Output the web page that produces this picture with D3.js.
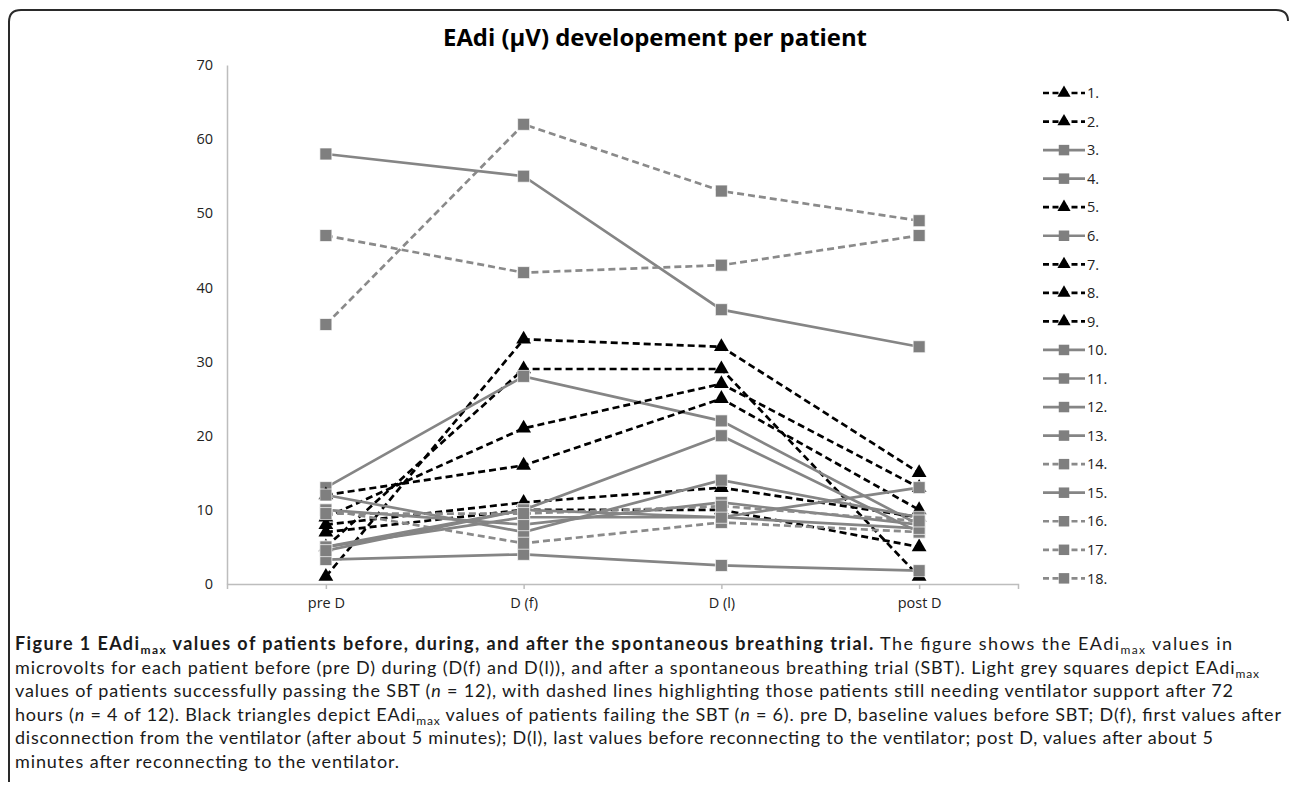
<!DOCTYPE html>
<html>
<head>
<meta charset="utf-8">
<script src="https://cdn.jsdelivr.net/npm/d3@7"></script>
<style>
  html, body { margin: 0; padding: 0; background: #fff; }
  svg { display: block; }
</style>
</head>
<body>
<svg id="chart" width="1290" height="786"></svg>
<script>
// ---------- DATA ----------
const categories = ["pre D", "D (f)", "D (l)", "post D"];
const patients = ["1.", "2.", "3.", "4.", "5.", "6.", "7.", "8.", "9.",
                  "10.", "11.", "12.", "13.", "14.", "15.", "16.", "17.", "18."];
// failing the SBT (black triangles, dashed)
const failing = ["1.", "2.", "5.", "7.", "8.", "9."];
// passing but still ventilated after 72 h (grey squares, dashed)
const stillVentilated = ["14.", "16.", "17.", "18."];
const yTicks = [0, 10, 20, 30, 40, 50, 60, 70];

const p1  = [1, 33, 32, 15];
const p2  = [5, 29, 29, 1];
const p3  = [58, 55, 37, 32];
const p4  = [13, 28, 22, 8];
const p5  = [9, 21, 27, 13];
const p6  = [3.3, 4, 2.5, 1.8];
const p7  = [12, 16, 25, 10];
const p8  = [8, 11, 13, 9];
const p9  = [7, 10, 10, 5];
const p10 = [5, 10, 20, 7];
const p11 = [12, 7, 14, 9];
const p12 = [5, 9, 9, 13];
const p13 = [10, 8, 11, 8];
const p14 = [10, 5.5, 8.3, 7];
const p15 = [4.5, 10, 9, 7.5];
const p16 = [9.5, 9.5, 10.5, 8.5];
const p17 = [35, 62, 53, 49];
const p18 = [47, 42, 43, 47];
const seriesValues = [p1, p2, p3, p4, p5, p6, p7, p8, p9, p10, p11, p12, p13, p14, p15, p16, p17, p18];

const series = patients.map((name, i) => ({
  name,
  values: seriesValues[i],
  kind: failing.includes(name) ? "fail" : (stillVentilated.includes(name) ? "vent" : "pass")
}));

// ---------- LAYOUT ----------
const svg = d3.select("#chart");
const GREY = "#7f7f7f";
const DASH = "7,4";
const styleOf = k => k === "fail"
  ? { stroke: "#000", dash: DASH, fill: "#000", sym: d3.symbolTriangle, size: 95 }
  : k === "vent"
    ? { stroke: "#8a8a8a", dash: DASH, fill: GREY, sym: d3.symbolSquare, size: 144 }
    : { stroke: "#858585", dash: null, fill: GREY, sym: d3.symbolSquare, size: 144 };

// frame
svg.append("path")
  .attr("d", "M9,782 L9,22 Q9,10 21,10 L1276,10 Q1288,10 1288,21")
  .attr("fill", "none").attr("stroke", "#2a2a2a").attr("stroke-width", 2);

// title
svg.append("text")
  .attr("x", 655).attr("y", 46)
  .attr("text-anchor", "middle")
  .attr("font-family", "'Open Sans', sans-serif")
  .attr("font-weight", "bold")
  .attr("font-size", 23)
  .attr("textLength", 424).attr("lengthAdjust", "spacingAndGlyphs")
  .attr("fill", "#000")
  .text("EAdi (µV) developement per patient");

const x = d3.scalePoint().domain(categories).range([227, 1018]).padding(0.5);
const y = d3.scaleLinear().domain([0, 70]).range([584, 65]);

// y axis
const yAxis = svg.append("g").attr("transform", "translate(227,0)")
  .call(d3.axisLeft(y).tickValues(yTicks).tickSize(0).tickPadding(14));
yAxis.select(".domain").attr("stroke", "#bdbdbd").attr("stroke-width", 1.5);
yAxis.selectAll("text").attr("font-family", "'Open Sans', sans-serif")
  .attr("font-size", 14.5).attr("fill", "#222");

// x axis
const xAxis = svg.append("g").attr("transform", "translate(0,584)")
  .call(d3.axisBottom(x).tickSizeInner(5).tickSizeOuter(5).tickPadding(0));
xAxis.select(".domain").attr("stroke", "#bdbdbd").attr("stroke-width", 1.5);
xAxis.selectAll(".tick line").attr("stroke", "#bdbdbd").attr("stroke-width", 1.5);
xAxis.selectAll("text").attr("y", 24).attr("dy", 0)
  .attr("font-family", "'Open Sans', sans-serif")
  .attr("font-size", 14.5).attr("fill", "#222");

// lines and markers
const line = d3.line().x((d, i) => x(categories[i])).y(d => y(d));
const plot = svg.append("g");
series.forEach(s => {
  const st = styleOf(s.kind);
  const g = plot.append("g");
  g.append("path")
    .attr("d", line(s.values))
    .attr("fill", "none")
    .attr("stroke", st.stroke)
    .attr("stroke-width", 2.7)
    .attr("stroke-dasharray", st.dash);
  g.selectAll("path.m").data(s.values).join("path")
    .attr("class", "m")
    .attr("transform", (d, i) => `translate(${x(categories[i])},${y(d)})`)
    .attr("d", d3.symbol().type(st.sym).size(st.size))
    .attr("fill", st.fill)
    .attr("stroke", s.kind === "fail" ? "none" : "#fff")
    .attr("stroke-width", 0.7);
});

// legend
const leg = svg.append("g");
series.forEach((s, i) => {
  const st = styleOf(s.kind);
  const yy = 93 + i * 28.55;
  leg.append("line")
    .attr("x1", 1043).attr("x2", 1085).attr("y1", yy).attr("y2", yy)
    .attr("stroke", st.stroke).attr("stroke-width", 2.7)
    .attr("stroke-dasharray", st.dash ? "6,3.5" : null);
  leg.append("path")
    .attr("transform", `translate(1064,${yy})`)
    .attr("d", d3.symbol().type(st.sym).size(s.kind === "fail" ? 75 : 110))
    .attr("fill", st.fill);
  leg.append("text")
    .attr("x", 1087).attr("y", yy).attr("dy", "0.36em")
    .attr("font-family", "'Open Sans', sans-serif")
    .attr("font-size", 14.5).attr("fill", "#222")
    .text(s.name);
});

// caption
const captionLines = [
  { y: 650, w: 1217, parts: [
    { t: "Figure 1 EAdi", b: 1 }, { t: "max", b: 1, sub: 1 },
    { t: " values of patients before, during, and after the spontaneous breathing trial.", b: 1 },
    { t: " The figure shows the EAdi" }, { t: "max", sub: 1 }, { t: " values in" }] },
  { y: 673.5, w: 1244, parts: [
    { t: "microvolts for each patient before (pre D) during (D(f) and D(l)), and after a spontaneous breathing trial (SBT). Light grey squares depict EAdi" },
    { t: "max", sub: 1 }] },
  { y: 697, w: 1218, parts: [
    { t: "values of patients successfully passing the SBT (" }, { t: "n", it: 1 },
    { t: " = 12), with dashed lines highlighting those patients still needing ventilator support after 72" }] },
  { y: 720.5, w: 1266, parts: [
    { t: "hours (" }, { t: "n", it: 1 }, { t: " = 4 of 12). Black triangles depict EAdi" }, { t: "max", sub: 1 },
    { t: " values of patients failing the SBT (" }, { t: "n", it: 1 },
    { t: " = 6). pre D, baseline values before SBT; D(f), first values after" }] },
  { y: 744, w: 1198, parts: [
    { t: "disconnection from the ventilator (after about 5 minutes); D(l), last values before reconnecting to the ventilator; post D, values after about 5" }] },
  { y: 767.5, w: 384, parts: [
    { t: "minutes after reconnecting to the ventilator." }] }
];
const cap = svg.append("g");
captionLines.forEach(L => {
  const t = cap.append("text")
    .attr("x", 15).attr("y", L.y)
    .attr("font-family", "Lato, 'Open Sans', sans-serif")
    .attr("font-size", 18).attr("fill", "#1a1a1a")
    .attr("textLength", L.w).attr("lengthAdjust", "spacing");
  let prevSub = false;
  L.parts.forEach(p => {
    const ts = t.append("tspan").text(p.t);
    if (p.b) ts.attr("font-weight", "bold");
    if (p.it) ts.attr("font-style", "italic");
    if (p.sub) { ts.attr("font-size", 12).attr("dy", 4); prevSub = true; }
    else if (prevSub) { ts.attr("dy", -4); prevSub = false; }
  });
});
</script>
</body>
</html>
